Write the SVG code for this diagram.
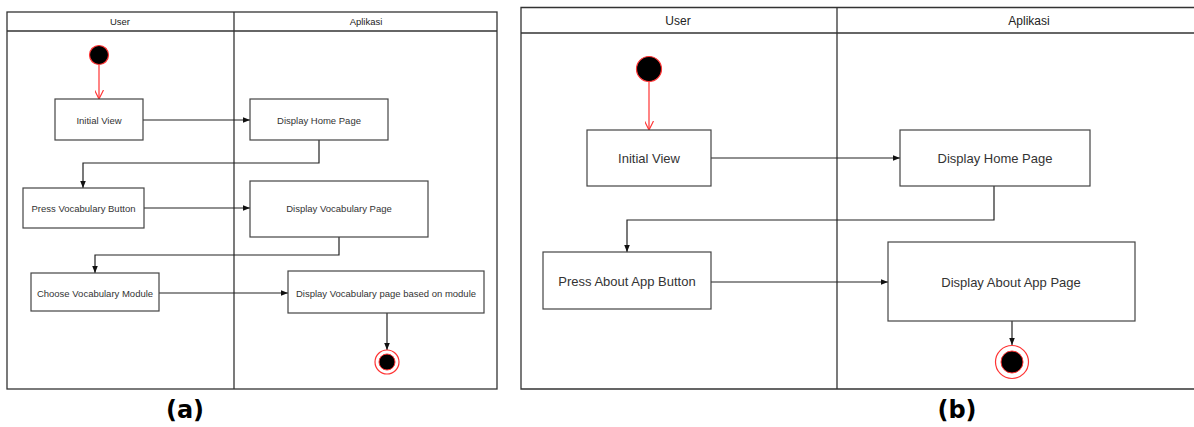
<svg xmlns="http://www.w3.org/2000/svg" width="1194" height="427" viewBox="0 0 1194 427">
<style>
.frame{fill:none;stroke:#333;stroke-width:1.3}
.box{fill:#fff;stroke:#444;stroke-width:1.2}
.t{font-family:"Liberation Sans",Arial,sans-serif;fill:#333;text-anchor:middle;dominant-baseline:central}
.ta{font-size:9.5px}
.tb{font-size:13px}
.hd{fill:#222}
.edge{fill:none;stroke:#222;stroke-width:1.2}
.red{fill:none;stroke:#ff3333;stroke-width:1.2}
.start{fill:#000;stroke:#ff3333;stroke-width:1.2}
.endo{fill:#fff;stroke:#ff3333;stroke-width:1.2}
.endi{fill:#000;stroke:#ff3333;stroke-width:1}
.cap{font-family:"DejaVu Sans",Verdana,sans-serif;font-weight:bold;font-size:24px;fill:#000;text-anchor:middle}
</style>
<defs>
<marker id="arr" viewBox="0 0 10 10" refX="10" refY="5" markerWidth="7" markerHeight="7" orient="auto" markerUnits="userSpaceOnUse"><path d="M0,1 L10,5 L0,9 Z" fill="#111"/></marker>
<marker id="open" viewBox="0 0 10 10" refX="10" refY="5" markerWidth="9" markerHeight="9" orient="auto" markerUnits="userSpaceOnUse"><path d="M0,0 L10,5 L0,10" fill="none" stroke="#ff3333" stroke-width="1.3"/></marker>
</defs>

<rect width="1194" height="427" fill="#fff"/>

<!-- Panel (a) lanes -->
<g id="lanes-a">
<rect class="frame" x="7" y="12" width="490" height="377"/>
<line class="frame" x1="7" y1="31" x2="497" y2="31"/>
<line class="frame" x1="234" y1="12" x2="234" y2="389"/>
<text class="t ta hd" x="120" y="21.5">User</text>
<text class="t ta hd" x="366" y="21.5">Aplikasi</text>
</g>

<g id="a-connectors">
<line class="red" x1="99" y1="65" x2="99" y2="99" marker-end="url(#open)"/>
<line class="edge" x1="143" y1="120" x2="250" y2="120" marker-end="url(#arr)"/>
<polyline class="edge" points="319,140 319,163 83,163 83,188" marker-end="url(#arr)"/>
<line class="edge" x1="144" y1="208" x2="250" y2="208" marker-end="url(#arr)"/>
<polyline class="edge" points="339,237 339,255 95,255 95,273" marker-end="url(#arr)"/>
<line class="edge" x1="159" y1="293" x2="288" y2="293" marker-end="url(#arr)"/>
<line class="edge" x1="387" y1="313" x2="387" y2="350" marker-end="url(#arr)"/>
</g>

<g id="a-start"><circle class="start" cx="99" cy="55" r="9.5"/></g>
<g id="a-initial"><rect class="box" x="55" y="99" width="88" height="41"/><text class="t ta" x="99" y="120">Initial View</text></g>
<g id="a-home"><rect class="box" x="250" y="99" width="138" height="41"/><text class="t ta" x="319" y="120">Display Home Page</text></g>
<g id="a-press"><rect class="box" x="23" y="188" width="121" height="40"/><text class="t ta" x="83.5" y="208">Press Vocabulary Button</text></g>
<g id="a-vocab"><rect class="box" x="250" y="181" width="178" height="56"/><text class="t ta" x="339" y="208">Display Vocabulary Page</text></g>
<g id="a-choose"><rect class="box" x="31" y="273" width="128" height="38"/><text class="t ta" x="95" y="293">Choose Vocabulary Module</text></g>
<g id="a-based"><rect class="box" x="288" y="271" width="196" height="42"/><text class="t ta" x="386" y="293">Display Vocabulary page based on module</text></g>
<g id="a-end"><circle class="endo" cx="387" cy="362" r="12"/><circle class="endi" cx="387" cy="362" r="8"/></g>

<!-- Panel (b) lanes -->
<g id="lanes-b">
<polyline class="frame" points="1194,7.5 521,7.5 521,389 1194,389"/>
<line class="frame" x1="521" y1="33" x2="1194" y2="33"/>
<line class="frame" x1="837" y1="7.5" x2="837" y2="389"/>
<text class="t hd" style="font-size:12px" x="678" y="20.5">User</text>
<text class="t hd" style="font-size:12px" x="1029" y="20.5">Aplikasi</text>
</g>

<g id="b-connectors">
<line class="red" x1="649" y1="82" x2="649" y2="130" marker-end="url(#open)"/>
<line class="edge" x1="711" y1="158" x2="900" y2="158" marker-end="url(#arr)"/>
<polyline class="edge" points="994,186 994,220 627,220 627,252" marker-end="url(#arr)"/>
<line class="edge" x1="711" y1="282" x2="888" y2="282" marker-end="url(#arr)"/>
<line class="edge" x1="1012" y1="321" x2="1012" y2="345" marker-end="url(#arr)"/>
</g>

<g id="b-start"><circle class="start" cx="649" cy="69" r="12.5"/></g>
<g id="b-initial"><rect class="box" x="587" y="130" width="124" height="56"/><text class="t tb" x="649" y="158">Initial View</text></g>
<g id="b-home"><rect class="box" x="900" y="130" width="190" height="56"/><text class="t tb" x="995" y="158">Display Home Page</text></g>
<g id="b-press"><rect class="box" x="543" y="252" width="168" height="57"/><text class="t tb" x="627" y="281">Press About App Button</text></g>
<g id="b-about"><rect class="box" x="888" y="242" width="247" height="79"/><text class="t tb" x="1011" y="282">Display About App Page</text></g>
<g id="b-end"><circle class="endo" cx="1012" cy="362" r="16.5"/><circle class="endi" cx="1012" cy="362" r="11"/></g>

<text class="cap" x="185" y="418">(a)</text>
<text class="cap" x="957" y="418">(b)</text>
</svg>
